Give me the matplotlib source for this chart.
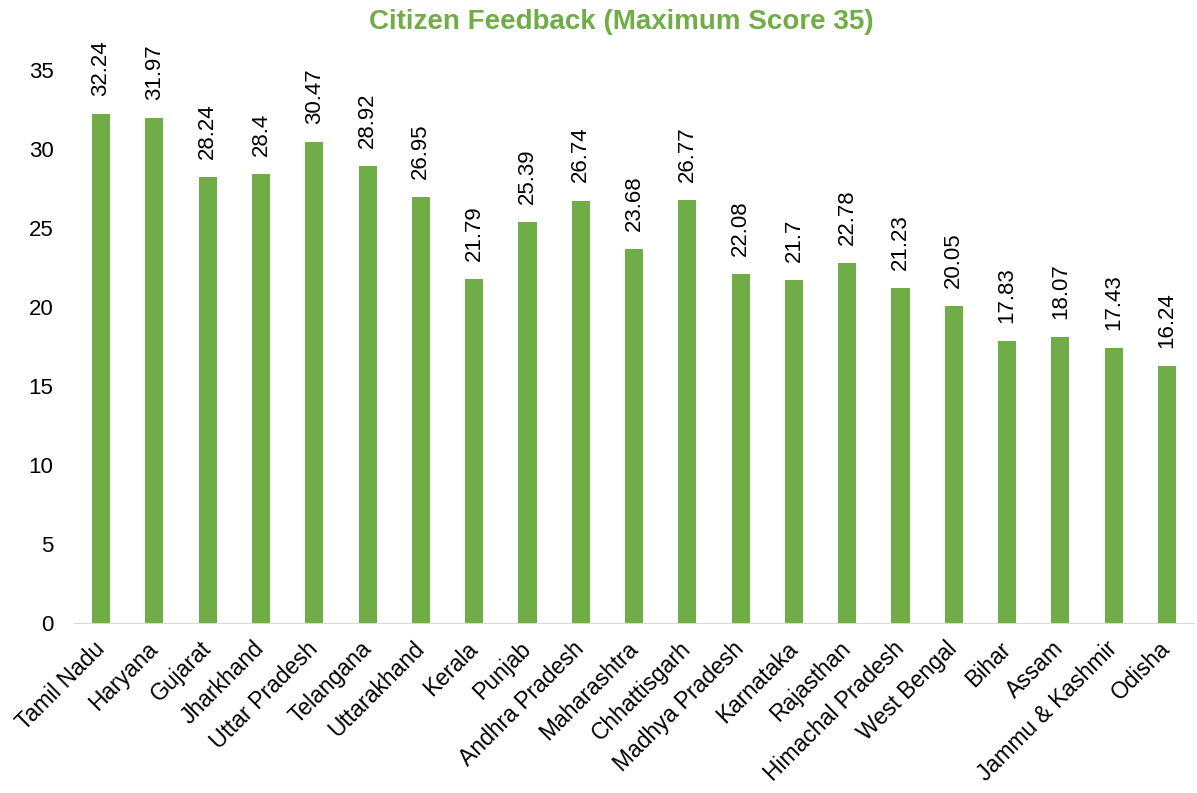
import matplotlib.pyplot as plt
import numpy as np

states = ['Tamil Nadu', 'Haryana', 'Gujarat', 'Jharkhand', 'Uttar Pradesh',
          'Telangana', 'Uttarakhand', 'Kerala', 'Punjab', 'Andhra Pradesh',
          'Maharashtra', 'Chhattisgarh', 'Madhya Pradesh', 'Karnataka',
          'Rajasthan', 'Himachal Pradesh', 'West Bengal', 'Bihar', 'Assam',
          'Jammu & Kashmir', 'Odisha']
scores = [32.24, 31.97, 28.24, 28.4, 30.47, 28.92, 26.95, 21.79, 25.39, 26.74,
          23.68, 26.77, 22.08, 21.7, 22.78, 21.23, 20.05, 17.83, 18.07, 17.43, 16.24]
score_labels = ['32.24', '31.97', '28.24', '28.4', '30.47', '28.92', '26.95', '21.79',
                '25.39', '26.74', '23.68', '26.77', '22.08', '21.7', '22.78', '21.23',
                '20.05', '17.83', '18.07', '17.43', '16.24']

plt.rcParams['font.family'] = ['Liberation Sans', 'DejaVu Sans']
green = '#70AD47'

fig = plt.figure(figsize=(11.97, 7.93), dpi=100)
ax = fig.add_axes([0.0622, 0.2144, 0.9350, 0.6973])

x = np.arange(len(states))
ax.bar(x, scores, width=0.34, color=green, zorder=2)

# data labels above each bar
for xi, v, lab in zip(x, scores, score_labels):
  ax.annotate(lab, (xi, v), xytext=(0, 13), textcoords='offset points',
              rotation=90, ha='center', va='bottom', fontsize=16,
              color='black', annotation_clip=False)

ax.set_xlim(-0.5, len(states) - 0.5)
ax.set_ylim(0, 35)
ax.set_yticks(range(0, 36, 5))
ax.set_xticks(x)
ax.set_xticklabels(states, rotation=45, ha='right', va='center', rotation_mode='anchor')
ax.tick_params(axis='y', length=0, labelsize=16, colors='black', pad=15)
ax.tick_params(axis='x', length=0, labelsize=16.5, colors='black', pad=16)

for s in ['top', 'right', 'left']:
  ax.spines[s].set_visible(False)
ax.spines['bottom'].set_color('#D9D9D9')

fig.text(0.519, 0.972, 'Citizen Feedback (Maximum Score 35)', ha='center', va='center',
         fontsize=20, fontweight='bold', color=green)

fig.savefig('out.png', dpi=100)
